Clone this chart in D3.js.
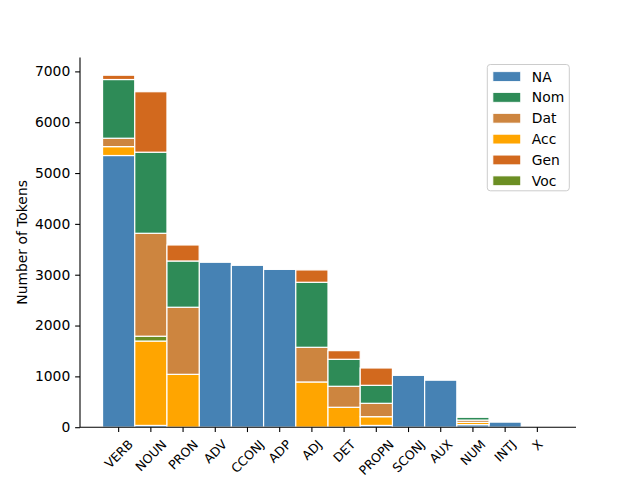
<!DOCTYPE html>
<html>
<head>
<meta charset="utf-8">
<script src="https://cdn.jsdelivr.net/npm/d3@7"></script>
<style>
  body { margin: 0; background: #fff; }
  svg { display: block; font-family: "DejaVu Sans", sans-serif; }
</style>
</head>
<body>
<svg id="chart" width="640" height="480"></svg>
<script>
const categories = ["VERB","NOUN","PRON","ADV","CCONJ","ADP","ADJ","DET","PROPN","SCONJ","AUX","NUM","INTJ","X"];
const naValues  = [5345,   35,    0, 3245, 3185, 3105,    0,    0,   35, 1020,  925,  50, 100, 0];
const accValues = [ 175, 1660, 1040,    0,    0,    0,  890,  392,  172,    0,    0,  45,   0, 0];
const vocValues = [   0,   95,    0,    0,    0,    0,    0,    0,    0,    0,    0,   0,   0, 0];
const datValues = [ 165, 2025, 1320,    0,    0,    0,  682,  413,  263,    0,    0,  45,   0, 0];
const nomValues = [1155, 1595,  910,    0,    0,    0, 1279,  531,  354,    0,    0,  55,   0, 0];
const genValues = [  85, 1190,  315,    0,    0,    0,  243,  170,  341,    0,    0,   0,   0, 0];
const yTicks = [0,1000,2000,3000,4000,5000,6000,7000];

const series = [
  {key:"NA",  values:naValues,  color:"#4682b4"},
  {key:"Acc", values:accValues, color:"#ffa500"},
  {key:"Voc", values:vocValues, color:"#6b8e23"},
  {key:"Dat", values:datValues, color:"#cd853f"},
  {key:"Nom", values:nomValues, color:"#2e8b57"},
  {key:"Gen", values:genValues, color:"#d2691e"}
];
const legendOrder = ["NA","Nom","Dat","Acc","Gen","Voc"];

const rows = categories.map((c,i) => {
  const r = {cat:c};
  series.forEach(s => r[s.key] = s.values[i]);
  return r;
});
const stack = d3.stack().keys(series.map(s=>s.key));
const stacked = stack(rows);

const svg = d3.select("#chart");
const L = 80, R = 576, T = 57.6, B = 427.2;
const fs = 13.89, xfs = 12.5;

const x = d3.scaleBand().domain(categories).range([L,R]).paddingInner(0).paddingOuter(0.7);
const maxTotal = d3.max(rows, r => series.reduce((a,s)=>a+r[s.key],0));
const y = d3.scaleLinear().domain([0, maxTotal*1.05]).range([B,T]);

const colorOf = k => series.find(s=>s.key===k).color;

// bars
svg.append("g").selectAll("g").data(stacked).join("g")
  .attr("fill", d => colorOf(d.key))
  .selectAll("rect").data(d => d.filter(p => p[1]-p[0] > 0)).join("rect")
  .attr("x", d => x(d.data.cat))
  .attr("width", x.bandwidth())
  .attr("y", d => y(d[1]))
  .attr("height", d => y(d[0]) - y(d[1]))
  .attr("stroke", "#ffffff")
  .attr("stroke-width", 1.2);

// y axis
const yAxis = d3.axisLeft(y).tickValues(yTicks).tickSize(4.86).tickPadding(4.86).tickFormat(d3.format("d"));
const gy = svg.append("g").attr("transform", `translate(${L},0)`).call(yAxis);
gy.select(".domain").attr("d", `M0,${B}V${T}`).attr("stroke","#000").attr("stroke-width",1.1);
gy.selectAll(".tick line").attr("stroke","#000").attr("stroke-width",1.1);
gy.selectAll(".tick text").attr("font-size", fs).attr("font-family","DejaVu Sans").attr("fill","#000");

// x axis
const xAxis = d3.axisBottom(x).tickSize(4.86).tickPadding(4.86);
const gx = svg.append("g").attr("transform", `translate(0,${B})`).call(xAxis);
gx.select(".domain").attr("d", `M${L},0H${R}`).attr("stroke","#000").attr("stroke-width",1.1);
gx.selectAll(".tick line").attr("stroke","#000").attr("stroke-width",1.1);
const th = xfs*1.17;
gx.selectAll(".tick text")
  .attr("font-size", xfs).attr("font-family","DejaVu Sans").attr("fill","#000")
  .attr("text-anchor","middle").attr("dy", null).attr("y", null)
  .attr("dominant-baseline","central")
  .each(function(){
    const w = this.getComputedTextLength();
    const half = (w + th) / (2*Math.SQRT2);
    d3.select(this).attr("transform", `translate(0,${4.86+4.86+half}) rotate(-45)`);
  });

// y label
svg.append("text")
  .attr("transform", `translate(22,${(T+B)/2}) rotate(-90)`)
  .attr("text-anchor","middle").attr("dominant-baseline","central")
  .attr("font-size", fs).attr("fill","#000")
  .text("Number of Tokens");

// legend
const lgX = 487.3, lgY = 64.5, lgW = 82, lgH = 126.3;
const lg = svg.append("g");
lg.append("rect").attr("x",lgX).attr("y",lgY).attr("width",lgW).attr("height",lgH)
  .attr("rx",3).attr("fill","#fff").attr("fill-opacity",0.8)
  .attr("stroke","#cccccc").attr("stroke-width",1);
const rowPitch = 20.85, firstRow = 76.6;
legendOrder.forEach((k,i) => {
  const cy = firstRow + i*rowPitch;
  lg.append("rect").attr("x",492.9).attr("y",cy-4.9).attr("width",27.8).attr("height",9.7)
    .attr("fill",colorOf(k)).attr("stroke","#fff").attr("stroke-width",0.8);
  lg.append("text").attr("x",531.8).attr("y",cy).attr("dominant-baseline","central")
    .attr("font-size",fs).attr("fill","#000").text(k);
});
</script>
</body>
</html>
